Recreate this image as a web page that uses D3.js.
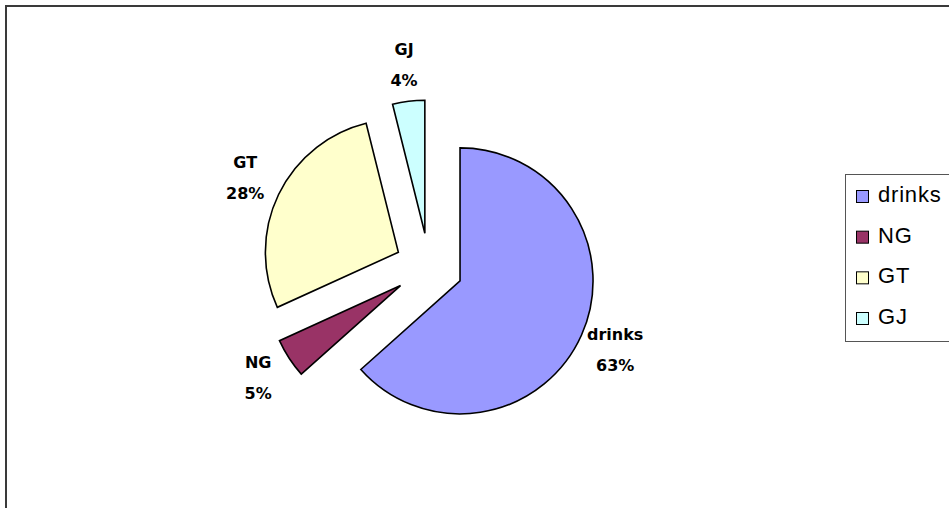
<!DOCTYPE html>
<html>
<head>
<meta charset="utf-8">
<script src="https://cdn.jsdelivr.net/npm/d3@7"></script>
<style>
  html, body { margin: 0; padding: 0; background: #fff; }
  svg { display: block; }
</style>
</head>
<body>
<svg id="chart" width="949" height="508"></svg>
<script>
// ---- data ----
const categories = ["drinks", "NG", "GT", "GJ"];
const values = [63.4, 4.8, 27.9, 3.9];
const colors = ["#9999FF", "#993366", "#FFFFCC", "#CCFFFF"];

// ---- layout ----
const W = 949, H = 508;
const cx = 429, cy = 267;
const radius = 133;
const explode = 34;
const labelDist = 204;

const svg = d3.select("#chart");

// outer chart frame (extends beyond the visible area)
svg.append("rect")
  .attr("x", 6).attr("y", 6)
  .attr("width", W + 20).attr("height", H + 20)
  .attr("fill", "#fff")
  .attr("stroke", "#3a3a3a")
  .attr("stroke-width", 2);

const data = categories.map((c, i) => ({ name: c, value: values[i], color: colors[i] }));
const total = d3.sum(values);

const pie = d3.pie().value(d => d.value).sort(null);
const arcs = pie(data);
const arc = d3.arc().innerRadius(0).outerRadius(radius);

const g = svg.append("g").attr("transform", `translate(${cx},${cy})`);

function dir(a) { return [Math.sin(a), -Math.cos(a)]; }

g.selectAll("path.slice")
  .data(arcs)
  .enter().append("path")
  .attr("class", "slice")
  .attr("d", arc)
  .attr("fill", d => d.data.color)
  .attr("stroke", "#000")
  .attr("stroke-width", 1.6)
  .attr("stroke-linejoin", "miter")
  .attr("transform", d => {
    const m = (d.startAngle + d.endAngle) / 2;
    const u = dir(m);
    return `translate(${u[0] * explode},${u[1] * explode})`;
  });

const labels = g.selectAll("g.lbl")
  .data(arcs)
  .enter().append("g")
  .attr("class", "lbl")
  .attr("transform", d => {
    const m = (d.startAngle + d.endAngle) / 2;
    const u = dir(m);
    return `translate(${u[0] * labelDist},${u[1] * labelDist})`;
  });

labels.append("text")
  .attr("text-anchor", "middle")
  .attr("y", -10)
  .attr("font-family", "DejaVu Sans, Verdana, sans-serif")
  .attr("font-weight", "bold")
  .attr("font-size", 16)
  .attr("fill", "#000")
  .text(d => d.data.name);

labels.append("text")
  .attr("text-anchor", "middle")
  .attr("y", 21)
  .attr("font-family", "DejaVu Sans, Verdana, sans-serif")
  .attr("font-weight", "bold")
  .attr("font-size", 16)
  .attr("fill", "#000")
  .text(d => Math.round(d.data.value / total * 100) + "%");

// ---- legend ----
const lx = 845, ly = 174;
svg.append("rect")
  .attr("x", lx + 0.5).attr("y", ly + 0.5)
  .attr("width", 200).attr("height", 167)
  .attr("fill", "#fff")
  .attr("stroke", "#555")
  .attr("stroke-width", 1);

const legY = d3.scalePoint().domain(categories).range([202, 324]);

const items = svg.selectAll("g.leg")
  .data(data)
  .enter().append("g")
  .attr("class", "leg")
  .attr("transform", d => `translate(0,${legY(d.name)})`);

items.append("rect")
  .attr("x", 856.5).attr("y", -11.5)
  .attr("width", 12).attr("height", 12)
  .attr("fill", d => d.color)
  .attr("stroke", "#000")
  .attr("stroke-width", 1);

items.append("text")
  .attr("x", 878)
  .attr("y", 0)
  .attr("font-family", "Liberation Sans, Arial, sans-serif")
  .attr("font-size", 22)
  .attr("letter-spacing", 0.8)
  .attr("fill", "#000")
  .text(d => d.name);
</script>
</body>
</html>
